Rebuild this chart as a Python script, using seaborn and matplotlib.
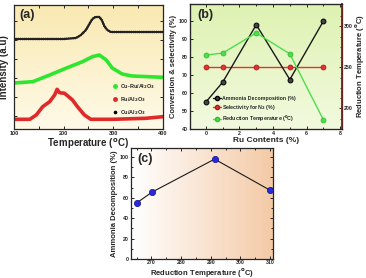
import numpy as np
import pandas as pd
import matplotlib
matplotlib.use("Agg")
import matplotlib.pyplot as plt
from matplotlib.lines import Line2D
import seaborn as sns

# ---------------- data ----------------
# Panel (a): TPR profiles (intensity in arbitrary units)
temp_black = [100, 200, 225, 235, 245, 252, 258, 264, 272, 277, 282, 288, 295, 400]
int_black = [90, 90, 91, 94, 99, 105, 110, 112, 112, 109, 103, 99, 97, 97]
temp_green = [100, 138, 172, 206, 238, 258, 272, 286, 298, 318, 338, 400]
int_green = [46, 47.3, 54, 61, 67.3, 72.3, 74, 69, 61, 55, 53, 51.7]
temp_red = [100, 132, 145, 158, 172, 182, 187, 192, 202, 218, 228, 242, 255, 300, 366, 400]
int_red = [9.7, 9.7, 14, 22.3, 27.3, 34, 39.7, 36.3, 35.7, 29, 22.3, 14, 9.7, 9.7, 10.7, 12.3]
labels_a = ["Cu-Ru/Al$_2$O$_3$", "Ru/Al$_2$O$_3$", "Cu/Al$_2$O$_3$"]

# Panel (b)
ru_contents = [0, 1, 3, 5, 7]
ammonia_dec = [55, 66, 98, 67.5, 100]
selectivity = [74.5, 74.5, 74.5, 74.5, 74.5]
red_temp = [265, 267.5, 292, 266.5, 186]
labels_b = ["Ammonia Decomposition (%)", "Selectivity for N$_2$ (%)",
            "Reduction Temperature ($^{\\mathbf{0}}$C)"]

# Panel (c)
c_temp = [265, 270.3, 291.3, 310]
c_ammonia = [55, 65.8, 98, 67.5]

# ---------------- style ----------------
sns.set_style("ticks")
plt.rcParams["font.family"] = ["Liberation Sans", "DejaVu Sans"]
plt.rcParams["font.weight"] = "bold"
plt.rcParams["axes.labelweight"] = "bold"
plt.rcParams["mathtext.default"] = "bf"
plt.rcParams["xtick.direction"] = "in"
plt.rcParams["ytick.direction"] = "in"

GREEN_A = "#2ee62e"
RED_A = "#e02a2a"
GREEN_B = "#4ddf4d"
RED_B = "#e23434"
MAROON = "#6e2424"

fig = plt.figure(figsize=(3.66, 2.78), dpi=100)
fig.patch.set_facecolor("white")
axA = fig.add_axes([0.038, 0.536, 0.407, 0.446])
axB = fig.add_axes([0.519, 0.536, 0.415, 0.450])
axC = fig.add_axes([0.357, 0.068, 0.389, 0.400])


def gradient(ax, c1, c2, horizontal=False):
    c1 = np.array(c1) / 255.0
    c2 = np.array(c2) / 255.0
    t = np.linspace(0, 1, 64)
    g = c1[None, :] * (1 - t[:, None]) + c2[None, :] * t[:, None]
    if horizontal:
        img = g[None, :, :]
    else:
        img = g[:, None, :]
    ax.imshow(img, extent=(0, 1, 0, 1), transform=ax.transAxes,
              aspect="auto", zorder=-10, interpolation="bilinear", origin="upper")


def style_ax(ax, tick_fs=4):
    for s in ax.spines.values():
        s.set_linewidth(0.9)
        s.set_visible(True)
    ax.tick_params(which="both", direction="in", top=True, right=True,
                   labelsize=tick_fs, width=0.7, pad=1.5)
    ax.tick_params(which="major", length=2.5)
    ax.tick_params(which="minor", length=1.5)
    for lab in ax.get_xticklabels() + ax.get_yticklabels():
        lab.set_fontweight("bold")


# ---------------- panel (a) ----------------
gradient(axA, (249, 233, 178), (255, 250, 232))
dfb = pd.DataFrame({"T": temp_black, "I": int_black})
dfg = pd.DataFrame({"T": temp_green, "I": int_green})
dfr = pd.DataFrame({"T": temp_red, "I": int_red})
sns.lineplot(data=dfg, x="T", y="I", ax=axA, color=GREEN_A, lw=2.6)
sns.lineplot(data=dfr, x="T", y="I", ax=axA, color=RED_A, lw=2.6)
sns.lineplot(data=dfb, x="T", y="I", ax=axA, color="#222222", lw=1.9,
             dashes=False, linestyle=(0, (0.05, 0.75)), dash_capstyle="round")
axA.set_xlim(100, 400)
axA.set_ylim(0, 124)
axA.set_xticks([100, 150, 200, 250, 300, 350, 400])
axA.set_xticklabels(["100", "", "200", "", "300", "", "400"])
axA.set_yticks([13, 32, 51, 70, 89, 108])
axA.set_yticklabels([])
style_ax(axA)
axA.set_xlabel("Temperature ($^{\\mathbf{o}}$C)", fontsize=7, labelpad=0.5)
axA.set_ylabel("Intensity (a.u)", fontsize=7, labelpad=2)
axA.text(0.035, 0.92, "(a)", transform=axA.transAxes, fontsize=9,
         fontweight="bold", va="center", ha="left")
hA = [Line2D([], [], ls="", marker="o", ms=2.5, color=GREEN_A),
      Line2D([], [], ls="", marker="o", ms=2.5, color=RED_A),
      Line2D([], [], ls="", marker="o", ms=1.6, color="black")]
legA = axA.legend(hA, labels_a, loc="upper left", bbox_to_anchor=(0.66, 0.38),
                  frameon=False, fontsize=4, handlelength=1.0, handletextpad=0.4,
                  labelspacing=0.75, borderaxespad=0, borderpad=0)

# ---------------- panel (b) ----------------
gradient(axB, (222, 242, 178), (242, 250, 222))
axB2 = axB.twinx()
dfB = pd.DataFrame({"Ru": ru_contents, "NH3": ammonia_dec, "Sel": selectivity,
                    "Tred": red_temp})
sns.lineplot(data=dfB, x="Ru", y="Sel", ax=axB, color=RED_B, lw=1.0,
             marker="o", ms=3.5, mfc=RED_B, mec="#b01818", mew=0.6)
sns.lineplot(data=dfB, x="Ru", y="NH3", ax=axB, color="#1a1a1a", lw=1.0,
             marker="o", ms=3.5, mfc="#444444", mec="black", mew=0.7, zorder=5)
sns.lineplot(data=dfB, x="Ru", y="Tred", ax=axB2, color=GREEN_B, lw=1.0,
             marker="o", ms=3.5, mfc=GREEN_B, mec="#2fbf2f", mew=0.6)
axB.set_xlim(-0.95, 8.1)
axB.set_ylim(40, 109.6)
axB2.set_ylim(174.8, 327.5)
axB.set_xticks([0, 2, 4, 6, 8])
axB.set_xticks([1, 3, 5, 7], minor=True)
axB.set_yticks([40, 50, 60, 70, 80, 90, 100])
axB2.set_yticks([200, 250, 300])
axB2.set_yticks([175, 187.5, 212.5, 225, 237.5, 262.5, 275, 287.5, 312.5, 325], minor=True)
style_ax(axB, tick_fs=3.8)
axB.tick_params(right=False, which="both")
axB2.tick_params(which="both", direction="in", right=True, labelsize=3.8,
                 colors=MAROON, width=0.7, pad=1.2)
axB2.tick_params(which="major", length=2.5)
axB2.tick_params(which="minor", length=1.5)
for lab in axB2.get_yticklabels():
    lab.set_color("#222222")
    lab.set_fontweight("bold")
axB2.spines["right"].set_color(MAROON)
axB2.spines["right"].set_linewidth(1.3)
axB.set_xlabel("Ru Contents (%)", fontsize=6, labelpad=0.5)
axB.set_ylabel("Conversion & selectivity (%)", fontsize=5.5, labelpad=1)
axB2.set_ylabel("Reduction Temperature ($^{\\mathbf{o}}$C)", fontsize=5.5, labelpad=0.5)
axB.text(0.05, 0.91, "(b)", transform=axB.transAxes, fontsize=9,
         fontweight="bold", va="center", ha="left")
hB = [Line2D([], [], color="#1a1a1a", lw=1.0, marker="o", ms=3, mfc="#444444", mec="black"),
      Line2D([], [], color=RED_B, lw=1.0, marker="o", ms=3, mfc=RED_B, mec="#b01818")]
legB = axB.legend(hB, labels_b[:2], loc="center left", bbox_to_anchor=(0.15, 0.2),
                  frameon=False, fontsize=3.8, handlelength=1.6, handletextpad=0.2,
                  labelspacing=0.5, borderaxespad=0, borderpad=0)
hB2 = [Line2D([], [], color=GREEN_B, lw=1.0, marker="o", ms=3, mfc=GREEN_B, mec="#2fbf2f")]
axB2.legend(hB2, labels_b[2:], loc="center left", bbox_to_anchor=(0.15, 0.078),
            frameon=False, fontsize=3.8, handlelength=1.6, handletextpad=0.2,
            borderaxespad=0, borderpad=0)

# ---------------- panel (c) ----------------
gradient(axC, (255, 255, 255), (244, 202, 166), horizontal=True)
dfC = pd.DataFrame({"T": c_temp, "A": c_ammonia})
sns.lineplot(data=dfC, x="T", y="A", ax=axC, color="#1a1a1a", lw=0.8,
             marker="o", ms=4.5, mfc="#2828dc", mec="#12128a", mew=0.5)
axC.set_xlim(263, 311)
axC.set_ylim(0, 109)
axC.set_xticks([270, 280, 290, 300, 310])
axC.set_xticks([265, 275, 285, 295, 305], minor=True)
axC.set_yticks([0, 20, 40, 60, 80, 100])
axC.set_yticks([10, 30, 50, 70, 90], minor=True)
style_ax(axC, tick_fs=3.8)
axC.tick_params(axis="x", pad=1.0)
axC.set_xlabel("Reduction Temperature ($^{\\mathbf{o}}$C)", fontsize=5.5, labelpad=0.2)
axC.set_ylabel("Ammonia Decomposition (%)", fontsize=5.5, labelpad=1)
axC.text(0.05, 0.9, "(c)", transform=axC.transAxes, fontsize=9,
         fontweight="bold", va="center", ha="left")

fig.savefig("out.png", dpi=100)
